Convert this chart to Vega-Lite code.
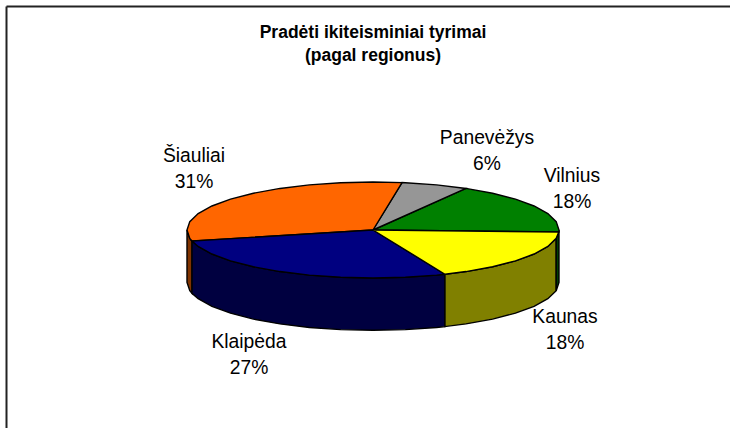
{"$schema":"https://vega.github.io/schema/vega-lite/v6.json","width":724,"height":422,"autosize":"none","padding":{"left":6,"top":6,"right":0,"bottom":0},"background":"white",
"title":{"text":["Pradėti ikiteisminiai tyrimai","(pagal regionus)"],"font":"Liberation Sans","fontSize":17.5,"fontWeight":"bold","color":"black","anchor":"middle","frame":"group","dx":5,"offset":-72,"lineHeight":23,"baseline":"alphabetic"},
"config":{"view":{"stroke":null}},
"datasets":{
"labels":[
{"region":"Šiauliai","share":31,"label":"Šiauliai\n31%","u":-0.9624,"v":1.4167},
{"region":"Panevėžys","share":6,"label":"Panevėžys\n6%","u":0.6129,"v":1.7917},
{"region":"Vilnius","share":18,"label":"Vilnius\n18%","u":1.0699,"v":1.0},
{"region":"Kaunas","share":18,"label":"Kaunas\n18%","u":1.0323,"v":-1.9375},
{"region":"Klaipėda","share":27,"label":"Klaipėda\n27%","u":-0.6667,"v":-2.4583}],
"walls":[
{"part":"Šiauliai side","seq":0,"u":-1,"v":0},{"part":"Šiauliai side","seq":1,"u":-0.985,"v":-0.174},{"part":"Šiauliai side","seq":2,"u":-0.973,"v":-0.23},{"part":"Šiauliai side","seq":3,"u":-0.973,"v":-1.32},{"part":"Šiauliai side","seq":4,"u":-0.985,"v":-1.264},{"part":"Šiauliai side","seq":5,"u":-1,"v":-1.09},{"part":"Šiauliai side","seq":6,"u":-1,"v":0},
{"part":"Klaipėda side","seq":0,"u":-0.973,"v":-0.23},{"part":"Klaipėda side","seq":1,"u":-0.94,"v":-0.342},{"part":"Klaipėda side","seq":2,"u":-0.866,"v":-0.5},{"part":"Klaipėda side","seq":3,"u":-0.766,"v":-0.643},{"part":"Klaipėda side","seq":4,"u":-0.643,"v":-0.766},{"part":"Klaipėda side","seq":5,"u":-0.5,"v":-0.866},{"part":"Klaipėda side","seq":6,"u":-0.342,"v":-0.94},{"part":"Klaipėda side","seq":7,"u":-0.174,"v":-0.985},{"part":"Klaipėda side","seq":8,"u":0,"v":-1},{"part":"Klaipėda side","seq":9,"u":0.174,"v":-0.985},{"part":"Klaipėda side","seq":10,"u":0.342,"v":-0.94},{"part":"Klaipėda side","seq":11,"u":0.387,"v":-0.922},{"part":"Klaipėda side","seq":12,"u":0.387,"v":-2.012},{"part":"Klaipėda side","seq":13,"u":0.342,"v":-2.03},{"part":"Klaipėda side","seq":14,"u":0.174,"v":-2.075},{"part":"Klaipėda side","seq":15,"u":0,"v":-2.09},{"part":"Klaipėda side","seq":16,"u":-0.174,"v":-2.075},{"part":"Klaipėda side","seq":17,"u":-0.342,"v":-2.03},{"part":"Klaipėda side","seq":18,"u":-0.5,"v":-1.956},{"part":"Klaipėda side","seq":19,"u":-0.643,"v":-1.856},{"part":"Klaipėda side","seq":20,"u":-0.766,"v":-1.733},{"part":"Klaipėda side","seq":21,"u":-0.866,"v":-1.59},{"part":"Klaipėda side","seq":22,"u":-0.94,"v":-1.432},{"part":"Klaipėda side","seq":23,"u":-0.973,"v":-1.32},{"part":"Klaipėda side","seq":24,"u":-0.973,"v":-0.23},
{"part":"Kaunas side","seq":0,"u":0.387,"v":-0.922},{"part":"Kaunas side","seq":1,"u":0.5,"v":-0.866},{"part":"Kaunas side","seq":2,"u":0.643,"v":-0.766},{"part":"Kaunas side","seq":3,"u":0.766,"v":-0.643},{"part":"Kaunas side","seq":4,"u":0.866,"v":-0.5},{"part":"Kaunas side","seq":5,"u":0.94,"v":-0.342},{"part":"Kaunas side","seq":6,"u":0.985,"v":-0.174},{"part":"Kaunas side","seq":7,"u":0.985,"v":-1.264},{"part":"Kaunas side","seq":8,"u":0.94,"v":-1.432},{"part":"Kaunas side","seq":9,"u":0.866,"v":-1.59},{"part":"Kaunas side","seq":10,"u":0.766,"v":-1.733},{"part":"Kaunas side","seq":11,"u":0.643,"v":-1.856},{"part":"Kaunas side","seq":12,"u":0.5,"v":-1.956},{"part":"Kaunas side","seq":13,"u":0.387,"v":-2.012},{"part":"Kaunas side","seq":14,"u":0.387,"v":-0.922},
{"part":"Vilnius side","seq":0,"u":0.985,"v":-0.174},{"part":"Vilnius side","seq":1,"u":1,"v":0},{"part":"Vilnius side","seq":2,"u":1,"v":-1.09},{"part":"Vilnius side","seq":3,"u":0.985,"v":-1.264},{"part":"Vilnius side","seq":4,"u":0.985,"v":-0.174}],
"tops":[
{"part":"Vilnius","seq":0,"u":0,"v":0},{"part":"Vilnius","seq":1,"u":0.999,"v":-0.042},{"part":"Vilnius","seq":2,"u":1,"v":0},{"part":"Vilnius","seq":3,"u":0.985,"v":0.174},{"part":"Vilnius","seq":4,"u":0.94,"v":0.342},{"part":"Vilnius","seq":5,"u":0.866,"v":0.5},{"part":"Vilnius","seq":6,"u":0.766,"v":0.643},{"part":"Vilnius","seq":7,"u":0.643,"v":0.766},{"part":"Vilnius","seq":8,"u":0.5,"v":0.866},{"part":"Vilnius","seq":9,"u":0,"v":0},
{"part":"Panevėžys","seq":0,"u":0,"v":0},{"part":"Panevėžys","seq":1,"u":0.5,"v":0.866},{"part":"Panevėžys","seq":2,"u":0.342,"v":0.94},{"part":"Panevėžys","seq":3,"u":0.174,"v":0.985},{"part":"Panevėžys","seq":4,"u":0.156,"v":0.988},{"part":"Panevėžys","seq":5,"u":0,"v":0},
{"part":"Šiauliai","seq":0,"u":0,"v":0},{"part":"Šiauliai","seq":1,"u":0.156,"v":0.988},{"part":"Šiauliai","seq":2,"u":0,"v":1},{"part":"Šiauliai","seq":3,"u":-0.174,"v":0.985},{"part":"Šiauliai","seq":4,"u":-0.342,"v":0.94},{"part":"Šiauliai","seq":5,"u":-0.5,"v":0.866},{"part":"Šiauliai","seq":6,"u":-0.643,"v":0.766},{"part":"Šiauliai","seq":7,"u":-0.766,"v":0.643},{"part":"Šiauliai","seq":8,"u":-0.866,"v":0.5},{"part":"Šiauliai","seq":9,"u":-0.94,"v":0.342},{"part":"Šiauliai","seq":10,"u":-0.985,"v":0.174},{"part":"Šiauliai","seq":11,"u":-1,"v":0},{"part":"Šiauliai","seq":12,"u":-0.985,"v":-0.174},{"part":"Šiauliai","seq":13,"u":-0.973,"v":-0.23},{"part":"Šiauliai","seq":14,"u":0,"v":0},
{"part":"Klaipėda","seq":0,"u":0,"v":0},{"part":"Klaipėda","seq":1,"u":-0.973,"v":-0.23},{"part":"Klaipėda","seq":2,"u":-0.94,"v":-0.342},{"part":"Klaipėda","seq":3,"u":-0.866,"v":-0.5},{"part":"Klaipėda","seq":4,"u":-0.766,"v":-0.643},{"part":"Klaipėda","seq":5,"u":-0.643,"v":-0.766},{"part":"Klaipėda","seq":6,"u":-0.5,"v":-0.866},{"part":"Klaipėda","seq":7,"u":-0.342,"v":-0.94},{"part":"Klaipėda","seq":8,"u":-0.174,"v":-0.985},{"part":"Klaipėda","seq":9,"u":0,"v":-1},{"part":"Klaipėda","seq":10,"u":0.174,"v":-0.985},{"part":"Klaipėda","seq":11,"u":0.342,"v":-0.94},{"part":"Klaipėda","seq":12,"u":0.387,"v":-0.922},{"part":"Klaipėda","seq":13,"u":0,"v":0},
{"part":"Kaunas","seq":0,"u":0,"v":0},{"part":"Kaunas","seq":1,"u":0.387,"v":-0.922},{"part":"Kaunas","seq":2,"u":0.5,"v":-0.866},{"part":"Kaunas","seq":3,"u":0.643,"v":-0.766},{"part":"Kaunas","seq":4,"u":0.766,"v":-0.643},{"part":"Kaunas","seq":5,"u":0.866,"v":-0.5},{"part":"Kaunas","seq":6,"u":0.94,"v":-0.342},{"part":"Kaunas","seq":7,"u":0.985,"v":-0.174},{"part":"Kaunas","seq":8,"u":0.999,"v":-0.042},{"part":"Kaunas","seq":9,"u":0,"v":0}]
},
"encoding":{
"x":{"field":"u","type":"quantitative","title":null,"scale":{"domain":[-1.9731,1.9194],"nice":false,"zero":false},"axis":{"orient":"top","domain":true,"domainColor":"#222222","domainWidth":2,"ticks":false,"labels":false,"grid":false}},
"y":{"field":"v","type":"quantitative","title":null,"scale":{"domain":[-4.125,4.6667],"nice":false,"zero":false},"axis":{"orient":"left","domain":true,"domainColor":"#222222","domainWidth":2,"ticks":false,"labels":false,"grid":false}}
},
"layer":[
{"data":{"name":"walls"},"mark":{"type":"line","stroke":"black","strokeWidth":1.4,"clip":false},
"encoding":{"order":{"field":"seq","type":"quantitative"},"fill":{"field":"part","type":"nominal","legend":null,"scale":{"domain":["Šiauliai side","Klaipėda side","Kaunas side","Vilnius side","Šiauliai","Klaipėda","Kaunas","Vilnius","Panevėžys"],"range":["#803300","#000040","#808000","#004000","#FF6600","#000080","#FFFF00","#008000","#969696"]}}}},
{"data":{"name":"tops"},"mark":{"type":"line","stroke":"black","strokeWidth":1.4,"clip":false},
"encoding":{"order":{"field":"seq","type":"quantitative"},"fill":{"field":"part","type":"nominal","legend":null}}},
{"data":{"name":"labels"},"mark":{"type":"text","font":"Liberation Sans","fontSize":19.3,"color":"black","align":"center","baseline":"alphabetic","lineBreak":"\n","lineHeight":26},
"encoding":{"text":{"field":"label","type":"nominal"}}}
]}
